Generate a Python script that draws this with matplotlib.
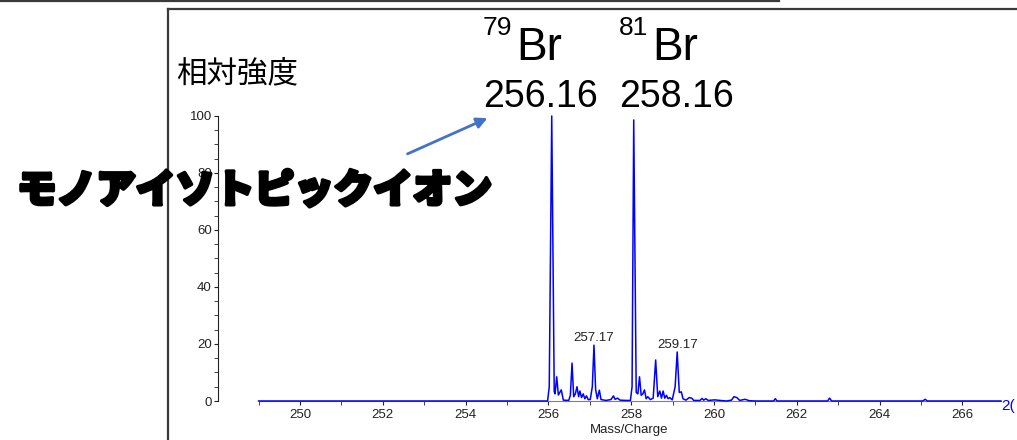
import matplotlib
matplotlib.use("Agg")
import matplotlib.pyplot as plt
import matplotlib.patheffects as pe
from matplotlib.lines import Line2D
from matplotlib.patches import FancyArrowPatch
from matplotlib.ticker import MultipleLocator

W, H = 1017, 440

# mass spectrum: m/z and relative intensity (%)
mz = [249.00, 255.98, 256.02, 256.08, 256.14, 256.16, 256.20, 256.24, 256.31, 256.36,
      256.49, 256.53, 256.57, 256.61, 256.65, 256.69, 256.73, 256.76, 256.80, 256.84,
      256.88, 256.92, 256.96, 257.01, 257.06, 257.10, 257.14, 257.18, 257.23, 257.27,
      257.39, 257.51, 257.57, 257.61, 257.67, 257.73, 257.87, 257.98, 258.02, 258.06,
      258.12, 258.16, 258.20, 258.24, 258.28, 258.32, 258.36, 258.40, 258.46, 258.53,
      258.59, 258.64, 258.69, 258.73, 258.77, 258.81, 258.85, 258.89, 258.93, 258.99,
      259.06, 259.11, 259.16, 259.21, 259.25, 259.32, 259.40, 259.46, 259.51, 259.66,
      259.71, 259.75, 259.80, 259.86, 260.02, 260.14, 260.30, 260.42, 260.48, 260.55,
      260.62, 260.75, 260.85, 261.00, 261.44, 261.48, 261.52, 262.74, 262.79, 262.84,
      265.04, 265.10, 265.15, 266.93]
intensity = [0.0, 0.0, 5.0, 100.0, 3.3, 2.5, 8.5, 2.1, 3.9, 0.3,
             0.2, 2.0, 13.3, 1.5, 2.5, 5.0, 1.5, 3.5, 1.2, 2.5,
             0.8, 1.8, 0.5, 0.5, 5.0, 19.6, 4.0, 0.8, 3.8, 0.5,
             0.2, 0.5, 1.8, 0.6, 1.0, 0.3, 0.2, 0.2, 5.0, 98.6,
             3.0, 2.5, 8.5, 2.0, 2.5, 3.9, 0.8, 1.5, 0.5, 1.0,
             14.4, 1.5, 3.5, 1.0, 3.5, 1.0, 2.0, 0.8, 1.2, 0.4,
             5.0, 17.2, 3.0, 3.2, 0.8, 0.3, 1.2, 1.0, 0.2, 0.2,
             0.9, 0.3, 0.8, 0.2, 0.4, 0.2, 0.0, 0.3, 1.5, 1.2,
             0.2, 0.6, 0.1, 0.0, 0.0, 0.8, 0.0, 0.0, 1.0, 0.0,
             0.0, 0.6, 0.0, 0.0]

# labelled minor peaks
peak_labels = ["257.17", "259.17"]
peak_mz = [257.10, 259.11]
peak_int = [19.6, 17.2]

x_ticks = [250, 252, 254, 256, 258, 260, 262, 264, 266]
y_ticks = [0, 20, 40, 60, 80, 100]


def fx(px):
    return px / W


def fy(py):
    return 1 - py / H


fig = plt.figure(figsize=(W / 100, H / 100), dpi=100)
fig.patch.set_facecolor("white")

ax = fig.add_axes([fx(218), fy(401), fx(1001) - fx(218), fy(110) - fy(401)])
ax.plot(mz, intensity, color="#0000ff", lw=1.1, clip_on=False, zorder=3)
ax.set_xlim(248.02, 266.93)
ax.set_ylim(0, 102.1)

for s in ["top", "right"]:
    ax.spines[s].set_visible(False)
ax.spines["bottom"].set_bounds(249.0, 266.93)
ax.spines["bottom"].set_color("#808080")
ax.spines["left"].set_bounds(0, 100)
ax.spines["left"].set_color("#222222")

ax.set_xticks(x_ticks)
ax.xaxis.set_minor_locator(MultipleLocator(1))
ax.set_yticks(y_ticks)
ax.yaxis.set_minor_locator(MultipleLocator(5))
ax.tick_params(axis="both", which="both", direction="out", colors="#222222",
               labelsize=9.5, labelcolor="#222222")
ax.tick_params(axis="x", which="major", length=3, pad=3)
ax.tick_params(axis="x", which="minor", length=3)
ax.tick_params(axis="y", which="major", length=3, pad=1.5)
ax.tick_params(axis="y", which="minor", length=3)
for lab in ax.get_xticklabels() + ax.get_yticklabels():
    lab.set_family("Liberation Sans")

for lab, x, y in zip(peak_labels, peak_mz, peak_int):
    ax.annotate(lab, (x, y), xytext=(0, 1), textcoords="offset pixels",
                ha="center", va="bottom", fontsize=9.5, family="Liberation Sans",
                color="#222222")

fig.text(fx(629), fy(430), "Mass/Charge", ha="center", va="center",
         fontsize=9.5, family="Liberation Sans", color="#222222")

# screenshot frame lines
fig.add_artist(Line2D([0, fx(779)], [fy(1), fy(1)], color="#3a3a3a", lw=1.6))
fig.add_artist(Line2D([fx(168), 1], [fy(9), fy(9)], color="#3a3a3a", lw=1.6))
fig.add_artist(Line2D([fx(168), fx(168)], [fy(9), 0], color="#3a3a3a", lw=1.6))

# annotations
fig.text(fx(176), fy(74), "相対強度", ha="left", va="center", fontsize=22,
         family=["Noto Sans CJK JP", "DejaVu Sans"], color="black")

for left, iso, mass in [(483, "79", "256.16"), (619, "81", "258.16")]:
    fig.text(fx(left), fy(35), iso, ha="left", va="baseline", fontsize=19,
             family="Liberation Sans", color="black")
    fig.text(fx(left + 33), fy(60), "Br", ha="left", va="baseline", fontsize=33,
             family="Liberation Sans", color="black")
    fig.text(fx(left), fy(107), mass, ha="left", va="baseline", fontsize=27,
             family="Liberation Sans", color="black")

arrow = FancyArrowPatch((fx(405), fy(155)), (fx(490), fy(117)),
                        transform=fig.transFigure, arrowstyle="-|>",
                        mutation_scale=16, lw=2, color="#4472c4")
fig.add_artist(arrow)

big = fig.text(fx(17), fy(191), "モノアイソトピックイオン", ha="left", va="center",
               fontsize=28.5, fontweight="black",
               family=["Noto Sans CJK JP", "DejaVu Sans"], color="black", zorder=10)
big.set_path_effects([pe.withStroke(linewidth=2.5, foreground="black")])

fig.text(fx(1001), fy(399), "2(", ha="left", va="top", fontsize=11,
         family="Liberation Sans", color="#0000ff")

plt.savefig("out.png", dpi=100)
